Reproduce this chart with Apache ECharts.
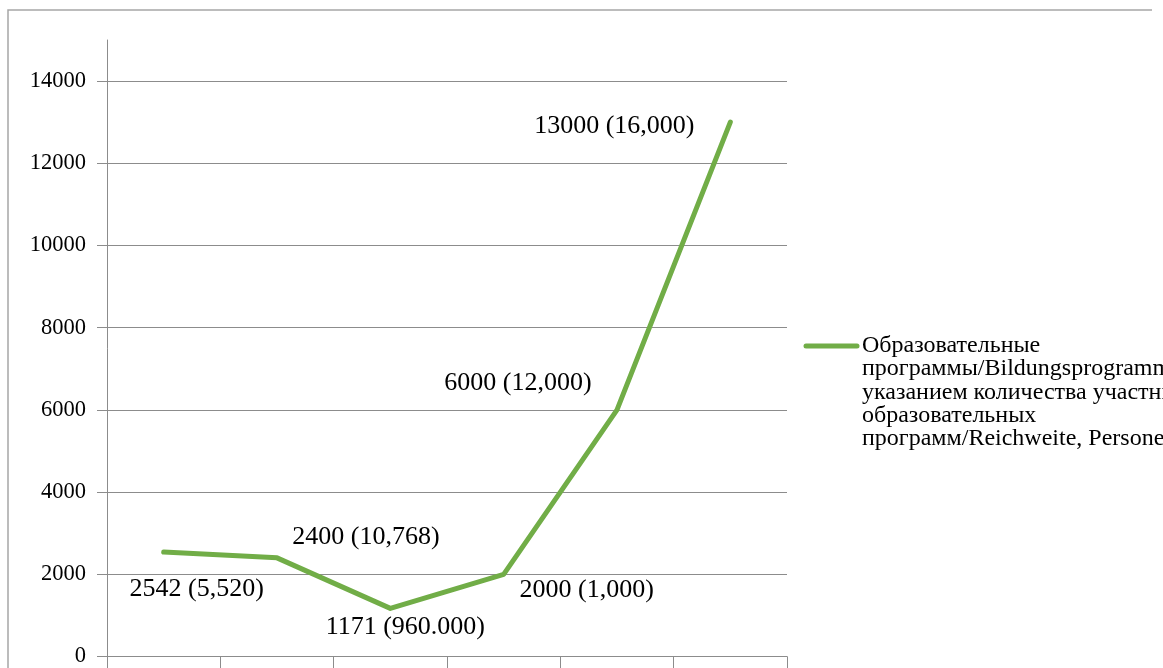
<!DOCTYPE html>
<html><head><meta charset="utf-8">
<script src="https://cdn.jsdelivr.net/npm/echarts@6/dist/echarts.min.js"></script>
<style>html,body{margin:0;padding:0;background:#fff}#c{width:1163px;height:668px}</style>
</head><body><div id="c"></div>
<script>
const categories = ['1', '2', '3', '4', '5', '6'];
const values = [2542, 2400, 1171, 2000, 6000, 13000];
const pointLabels = ['2542 (5,520)', '2400 (10,768)', '1171 (960.000)', '2000 (1,000)', '6000 (12,000)', '13000 (16,000)'];
const seriesName = 'Образовательные\nпрограммы/Bildungsprogramme с\nуказанием количества участников\nобразовательных\nпрограмм/Reichweite, Personen';

const labelOffsets = [[33, 37], [89, -21], [15, 19], [83, 16], [-99, -27], [-116, 4]];
const FONT = '"Liberation Serif", "Times New Roman", serif';
const chart = echarts.init(document.getElementById('c'));
chart.setOption({
  animation: false,
  backgroundColor: '#fff',
  grid: {left: 107, right: 376, top: 40, bottom: 10, containLabel: false},
  xAxis: {
    type: 'category', data: categories, boundaryGap: true,
    axisLine: {lineStyle: {color: '#8c8c8c', width: 1}},
    axisTick: {show: true, length: 12, lineStyle: {color: '#8c8c8c'}},
    axisLabel: {show: false}
  },
  yAxis: {
    type: 'value', min: 0, max: 15000, interval: 2000,
    axisLine: {show: true, lineStyle: {color: '#8c8c8c'}},
    axisTick: {show: true, length: 10, lineStyle: {color: '#8c8c8c'}},
    axisLabel: {
      color: '#000', fontFamily: FONT, fontSize: 22.5, margin: 21,
      showMaxLabel: false,
      formatter: v => (v % 2000 === 0 ? String(v) : '')
    },
    splitLine: {show: true, showMaxLine: false, lineStyle: {color: '#8c8c8c', width: 1}}
  },
  series: [{
    type: 'line', name: seriesName,
    data: values.map((v, i) => ({
      value: v,
      label: {offset: labelOffsets[i]}
    })),
    showSymbol: true, symbol: 'circle', symbolSize: 0,
    lineStyle: {color: '#71ad47', width: 5, cap: 'round', join: 'round'},
    itemStyle: {color: '#71ad47'},
    label: {
      show: true, position: 'inside', align: 'center', verticalAlign: 'middle',
      color: '#000', fontFamily: FONT, fontSize: 26,
      formatter: p => pointLabels[p.dataIndex]
    }
  }],
  graphic: [
    {type: 'polyline', shape: {points: [[8, 700], [8, 10], [1152, 10]]}, style: {stroke: '#a6a6a6', lineWidth: 1.5, fill: null}},
    {type: 'line', shape: {x1: 806, y1: 346, x2: 857, y2: 346}, style: {stroke: '#71ad47', lineWidth: 5, lineCap: 'round'}},
    {type: 'text', left: 862, top: 334, style: {text: seriesName, fontFamily: FONT, fontSize: 24, lineHeight: 23.2, fill: '#000'}}
  ]
});
</script>
</body></html>
